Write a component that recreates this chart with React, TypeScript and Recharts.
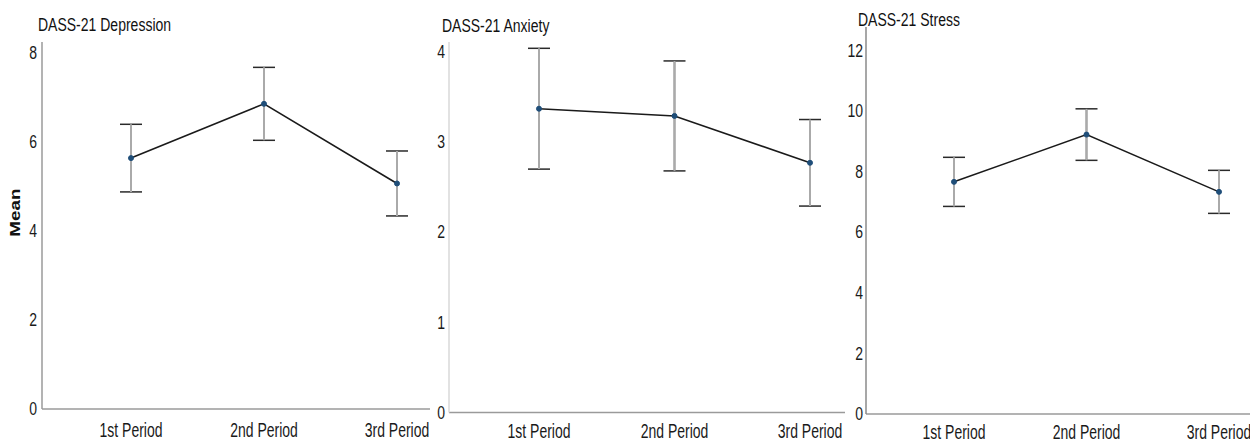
import { LineChart, Line, XAxis, YAxis, ErrorBar } from "recharts";

const FONT = "'Liberation Sans', Arial, sans-serif";
const STRETCH = 1.35;
const X_STRETCH = 1.45;

const periods = ["1st Period", "2nd Period", "3rd Period"];

const depressionMean = [5.64, 6.86, 5.07];
const depressionErr = [0.76, 0.82, 0.73];
const anxietyMean = [3.37, 3.29, 2.77];
const anxietyErr = [0.67, 0.61, 0.48];
const stressMean = [7.66, 9.22, 7.33];
const stressErr = [0.81, 0.85, 0.71];

const depressionTicks = [0, 2, 4, 6, 8];
const anxietyTicks = [0, 1, 2, 3, 4];
const stressTicks = [0, 2, 4, 6, 8, 10, 12];

const build = (means: number[], errs: number[]) =>
  periods.map((p, i) => ({ period: p, mean: means[i], err: errs[i] }));

function YTick({ x, y, payload }: any) {
  return (
    <text
      transform={`translate(${x},${y}) scale(1,${STRETCH})`}
      textAnchor="end"
      dominantBaseline="central"
      fontSize={14}
      fontFamily={FONT}
      fill="#1a1a1a"
    >
      {payload.value}
    </text>
  );
}

function XTick({ x, y, payload }: any) {
  return (
    <text
      transform={`translate(${x},${y}) scale(1,${X_STRETCH})`}
      textAnchor="middle"
      dominantBaseline="central"
      fontSize={14}
      fontFamily={FONT}
      fill="#1a1a1a"
    >
      {payload.value}
    </text>
  );
}

function MeanLabel({ viewBox }: any) {
  const cx = viewBox.x + 15;
  const cy = viewBox.y + viewBox.height * 0.465;
  return (
    <text
      transform={`translate(${cx},${cy}) rotate(-90) scale(1.35,1)`}
      textAnchor="middle"
      dominantBaseline="central"
      fontSize={14}
      fontWeight="bold"
      fontFamily={FONT}
      fill="#111"
    >
      Mean
    </text>
  );
}

interface PanelProps {
  title: string;
  data: { period: string; mean: number; err: number }[];
  ticks: number[];
  yMax: number;
  width: number;
  left: number;
  top: number;
  bottom: number;
  axisWidth: number;
  padLeft: number;
  padRight: number;
  yAxisColor: string;
  tickGap: number;
  labelGap: number;
  titleX: number;
  titleY: number;
  showMean?: boolean;
}

function Panel(p: PanelProps) {
  return (
    <div style={{ position: "absolute", left: p.left, top: 0, width: p.width, height: 443 }}>
      <LineChart
        width={p.width}
        height={443}
        data={p.data}
        margin={{ top: p.top, right: 2, bottom: 0, left: 0 }}
      >
        <XAxis
          dataKey="period"
          scale="point"
          padding={{ left: p.padLeft, right: p.padRight }}
          interval={0}
          tickLine={false}
          tickSize={0}
          tickMargin={p.labelGap}
          height={443 - p.bottom}
          stroke="#9a9a9a"
          strokeWidth={1.5}
          tick={<XTick />}
        />
        <YAxis
          type="number"
          domain={[0, p.yMax]}
          ticks={p.ticks}
          width={p.axisWidth}
          tickLine={false}
          tickSize={0}
          tickMargin={p.tickGap}
          stroke={p.yAxisColor}
          strokeWidth={1.5}
          tick={<YTick />}
          label={p.showMean ? <MeanLabel /> : undefined}
        />
        <Line
          type="linear"
          dataKey="mean"
          stroke="#1a1a1a"
          strokeWidth={1.6}
          dot={{ r: 2.5, fill: "#1f4e79", stroke: "#1f4e79", strokeWidth: 1 }}
          activeDot={false}
          isAnimationActive={false}
        >
          <ErrorBar dataKey="err" width={11} stroke="#2a2a2a" strokeWidth={1.5} direction="y" />
          <ErrorBar dataKey="err" width={0} stroke="#aaaaaa" strokeWidth={2} direction="y" />
        </Line>
      </LineChart>
      <div
        style={{
          position: "absolute",
          left: p.titleX,
          top: p.titleY,
          fontFamily: FONT,
          fontSize: 14,
          color: "#111",
          whiteSpace: "nowrap",
          transform: `scale(1,${STRETCH})`,
          transformOrigin: "left center",
          lineHeight: "14px",
        }}
      >
        {p.title}
      </div>
    </div>
  );
}

export default function App() {
  return (
    <div style={{ position: "absolute", left: 0, top: 0, width: 1250, height: 443, background: "#fff", overflow: "hidden" }}>
      <Panel
        title="DASS-21 Depression"
        data={build(depressionMean, depressionErr)}
        ticks={depressionTicks}
        yMax={8.25}
        left={0}
        width={432}
        top={42}
        bottom={409}
        axisWidth={42}
        padLeft={89}
        padRight={33}
        yAxisColor="#9a9a9a"
        tickGap={5}
        labelGap={21}
        titleX={38}
        titleY={17}
        showMean
      />
      <Panel
        title="DASS-21 Anxiety"
        data={build(anxietyMean, anxietyErr)}
        ticks={anxietyTicks}
        yMax={4.11}
        left={432}
        width={415}
        top={42}
        bottom={412.5}
        axisWidth={17}
        padLeft={90}
        padRight={35}
        yAxisColor="#d9d9d9"
        tickGap={4}
        labelGap={19}
        titleX={10}
        titleY={18}
      />
      <Panel
        title="DASS-21 Stress"
        data={build(stressMean, stressErr)}
        ticks={stressTicks}
        yMax={12.77}
        left={846}
        width={406}
        top={27}
        bottom={414}
        axisWidth={20}
        padLeft={88}
        padRight={31}
        yAxisColor="#8a8a8a"
        tickGap={3}
        labelGap={18}
        titleX={12}
        titleY={12}
      />
    </div>
  );
}
